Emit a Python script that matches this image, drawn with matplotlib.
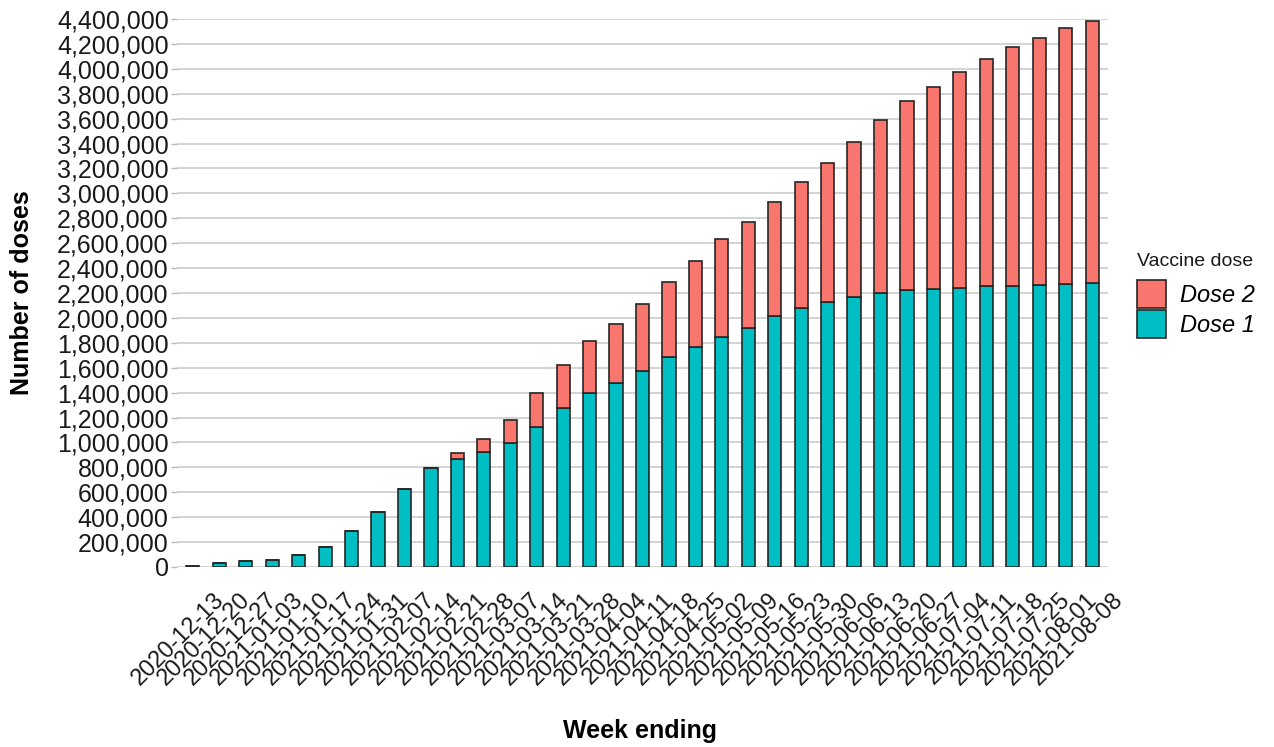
import matplotlib
matplotlib.use("Agg")
import matplotlib.pyplot as plt
from matplotlib.ticker import FuncFormatter, MultipleLocator
from matplotlib.transforms import ScaledTranslation
import numpy as np

weeks = ["2020-12-13", "2020-12-20", "2020-12-27", "2021-01-03", "2021-01-10",
         "2021-01-17", "2021-01-24", "2021-01-31", "2021-02-07", "2021-02-14",
         "2021-02-21", "2021-02-28", "2021-03-07", "2021-03-14", "2021-03-21",
         "2021-03-28", "2021-04-04", "2021-04-11", "2021-04-18", "2021-04-25",
         "2021-05-02", "2021-05-09", "2021-05-16", "2021-05-23", "2021-05-30",
         "2021-06-06", "2021-06-13", "2021-06-20", "2021-06-27", "2021-07-04",
         "2021-07-11", "2021-07-18", "2021-07-25", "2021-08-01", "2021-08-08"]

dose1 = [8000, 35000, 46000, 56000, 99000, 163000, 292000, 442000, 624000, 795000,
         867000, 924000, 997000, 1125000, 1277000, 1395000, 1481000, 1577000, 1684000, 1770000,
         1847000, 1922000, 2017000, 2083000, 2126000, 2168000, 2199000, 2225000, 2233000, 2243000,
         2255000, 2257000, 2268000, 2276000, 2277000]

dose2 = [0, 0, 0, 0, 0, 0, 0, 0, 0, 0,
         49000, 107000, 185000, 273000, 343000, 420000, 473000, 538000, 603000, 690000,
         785000, 849000, 915000, 1009000, 1117000, 1246000, 1389000, 1513000, 1622000, 1730000,
         1825000, 1920000, 1983000, 2051000, 2103000]

plt.rcParams['font.family'] = ['Liberation Sans', 'DejaVu Sans']

fig = plt.figure(figsize=(12.74, 7.47), dpi=100)
ax = fig.add_axes([177 / 1274, 1 - 567 / 747, (1108 - 177) / 1274, (567 - 19) / 747])

x = np.arange(len(weeks))
c1 = "#00BFC4"
c2 = "#F8766D"
ec = "#262626"
b1 = ax.bar(x, dose1, width=0.5, color=c1, edgecolor=ec, linewidth=1.2, label="Dose 1", zorder=3)
b2 = ax.bar(x, dose2, width=0.5, bottom=dose1, color=c2, edgecolor=ec, linewidth=1.2,
            label="Dose 2", zorder=3)

ax.set_xlim(-0.6, len(weeks) - 1 + 0.6)
ax.set_ylim(0, 4400000)
ax.yaxis.set_major_locator(MultipleLocator(200000))
ax.yaxis.set_major_formatter(FuncFormatter(lambda v, p: f"{int(round(v)):,}"))
ax.grid(axis='y', color="#CCCCCC", linewidth=1.2, zorder=0)
ax.grid(axis='x', visible=False)
for s in ax.spines.values():
    s.set_visible(False)

ax.set_xticks(x)
ax.set_xticklabels(weeks, rotation=45, ha='right', va='top', rotation_mode='anchor')
ax.tick_params(axis='x', length=0, pad=12, labelsize=17, labelcolor='#1a1a1a')
ax.tick_params(axis='y', length=4, width=1, color='#BBBBBB', pad=2, labelsize=18,
               labelcolor='#1a1a1a')
off = ScaledTranslation(20 / 100, -5 / 100, fig.dpi_scale_trans)
for lab in ax.get_xticklabels():
    lab.set_transform(lab.get_transform() + off)

fig.text(22 / 1274, 1 - 293 / 747, "Number of doses", rotation=90, ha='center', va='center',
         fontsize=18, fontweight='bold')
fig.text(640 / 1274, 1 - 731 / 747, "Week ending", ha='center', va='center',
         fontsize=18, fontweight='bold')

fig.text(1137 / 1274, 1 - 261 / 747, "Vaccine dose", ha='left', va='center', fontsize=14,
         color='#1a1a1a')
leg = ax.legend(handles=[b2, b1], labels=["Dose 2", "Dose 1"],
                loc='upper left', bbox_to_anchor=(1137 / 1274, 1 - 280 / 747),
                bbox_transform=fig.transFigure, frameon=False,
                prop={'size': 17, 'style': 'italic'},
                handlelength=1.23, handleheight=1.45, labelspacing=0.08,
                handletextpad=0.6, borderpad=0, borderaxespad=0)

fig.savefig("out.png", dpi=100)
